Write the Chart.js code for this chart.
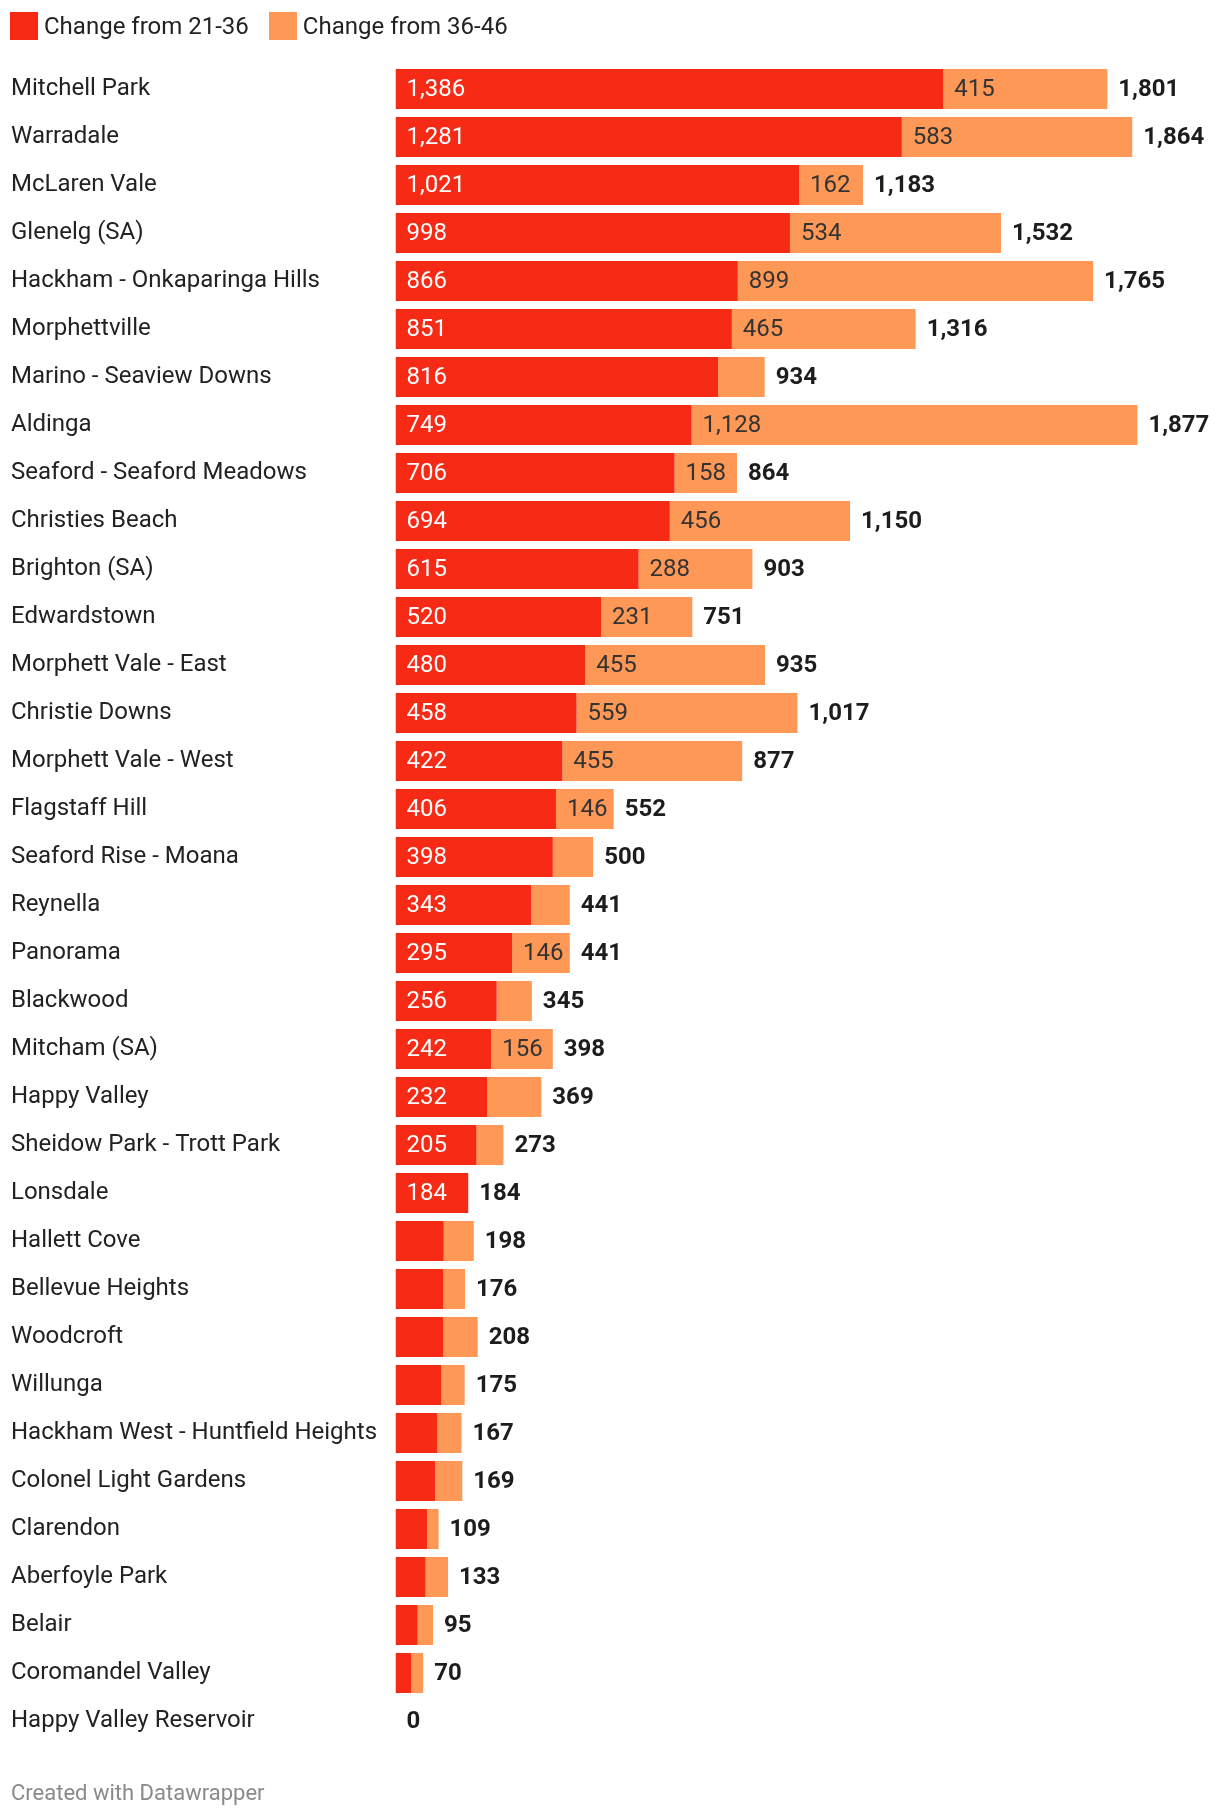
<!DOCTYPE html>
<html>
<head>
<meta charset="utf-8">
<script src="https://cdn.jsdelivr.net/npm/chart.js@4/dist/chart.umd.min.js"></script>
<style>
	body { margin: 0; background: #fff; font-family: Roboto, sans-serif; }
	#wrap { position: relative; width: 1220px; height: 1818px; }
	#legend { position: absolute; left: 10px; top: 12px; display: flex; font-size: 24px; color: #222; }
	#legend .item { display: flex; align-items: center; margin-right: 20px; }
	#legend .box { width: 28px; height: 28px; margin-right: 6px; }
	#footer { position: absolute; left: 11px; top: 1780px; font-size: 22px; color: #8a8a8a; }
</style>
</head>
<body>
<div id="wrap">
	<canvas id="chart" width="1220" height="1818"></canvas>
	<div id="legend"></div>
	<div id="footer">Created with Datawrapper</div>
</div>
<script>
const suburbs = [
	'Mitchell Park', 'Warradale', 'McLaren Vale', 'Glenelg (SA)', 'Hackham - Onkaparinga Hills',
	'Morphettville', 'Marino - Seaview Downs', 'Aldinga', 'Seaford - Seaford Meadows', 'Christies Beach',
	'Brighton (SA)', 'Edwardstown', 'Morphett Vale - East', 'Christie Downs', 'Morphett Vale - West',
	'Flagstaff Hill', 'Seaford Rise - Moana', 'Reynella', 'Panorama', 'Blackwood',
	'Mitcham (SA)', 'Happy Valley', 'Sheidow Park - Trott Park', 'Lonsdale', 'Hallett Cove',
	'Bellevue Heights', 'Woodcroft', 'Willunga', 'Hackham West - Huntfield Heights', 'Colonel Light Gardens',
	'Clarendon', 'Aberfoyle Park', 'Belair', 'Coromandel Valley', 'Happy Valley Reservoir'
];
const change2136 = [
	1386, 1281, 1021, 998, 866,
	851, 816, 749, 706, 694,
	615, 520, 480, 458, 422,
	406, 398, 343, 295, 256,
	242, 232, 205, 184, 122,
	121, 121, 116, 106, 100,
	80, 76, 56, 40, 0
];
const change3646 = [
	415, 583, 162, 534, 899,
	465, 118, 1128, 158, 456,
	288, 231, 455, 559, 455,
	146, 102, 98, 146, 89,
	156, 137, 68, 0, 76,
	55, 87, 59, 61, 69,
	29, 57, 39, 30, 0
];
const seriesNames = ['Change from 21-36', 'Change from 36-46'];

const RED = '#f72a15';
const ORANGE = '#fe9857';

const fmt = (v) => v.toLocaleString('en-US');

// value labels inside segments + bold totals at the end of each bar
const barLabels = {
	id: 'barLabels',
	afterDatasetsDraw(chart) {
		const ctx = chart.ctx;
		const pad = 11;
		ctx.save();
		ctx.textBaseline = 'middle';
		ctx.textAlign = 'left';
		ctx.font = '24px Roboto';
		chart.data.datasets.forEach((ds, di) => {
			const meta = chart.getDatasetMeta(di);
			ctx.fillStyle = di === 0 ? '#ffffff' : '#333333';
			meta.data.forEach((bar, i) => {
				const v = ds.data[i];
				if (!v) return;
				const txt = fmt(v);
				const w = Math.abs(bar.x - bar.base);
				// hide labels that don't fit in the segment
				if (ctx.measureText(txt).width + pad + 5 > w) return;
				ctx.fillText(txt, Math.min(bar.x, bar.base) + pad, bar.y + 1);
			});
		});
		ctx.font = 'bold 24px Roboto';
		ctx.fillStyle = '#1d1d1d';
		const last = chart.getDatasetMeta(chart.data.datasets.length - 1);
		last.data.forEach((bar, i) => {
			const total = change2136[i] + change3646[i];
			ctx.fillText(fmt(total), bar.x + pad, bar.y + 1);
		});
		ctx.restore();
	}
};

const start = () => {
	Chart.defaults.font.family = 'Roboto';

	const chart = new Chart(document.getElementById('chart'), {
		type: 'bar',
		data: {
			labels: suburbs,
			datasets: [
				{ label: seriesNames[0], data: change2136, backgroundColor: RED },
				{ label: seriesNames[1], data: change3646, backgroundColor: ORANGE }
			]
		},
		options: {
			indexAxis: 'y',
			responsive: false,
			animation: false,
			devicePixelRatio: 1,
			layout: { padding: { left: 11, right: 34, top: 65, bottom: 73 } },
			datasets: { bar: { barPercentage: 40 / 48, categoryPercentage: 1 } },
			plugins: { legend: { display: false }, tooltip: { enabled: false } },
			scales: {
				x: { stacked: true, display: false, min: 0, max: 2000 },
				y: {
					stacked: true,
					grid: { display: false },
					border: { display: false },
					ticks: {
						autoSkip: false,
						crossAlign: 'far',
						color: '#222',
						font: { size: 24 }
					},
					afterFit: (scale) => { scale.width = 384.5; }
				}
			}
		},
		plugins: [barLabels]
	});

	const legend = document.getElementById('legend');
	chart.data.datasets.forEach((ds) => {
		const item = document.createElement('div');
		item.className = 'item';
		item.innerHTML = '<span class="box" style="background:' + ds.backgroundColor + '"></span>' + ds.label;
		legend.appendChild(item);
	});
};

document.fonts.load('24px Roboto').then(() => document.fonts.load('bold 24px Roboto')).then(start, start);
</script>
</body>
</html>
